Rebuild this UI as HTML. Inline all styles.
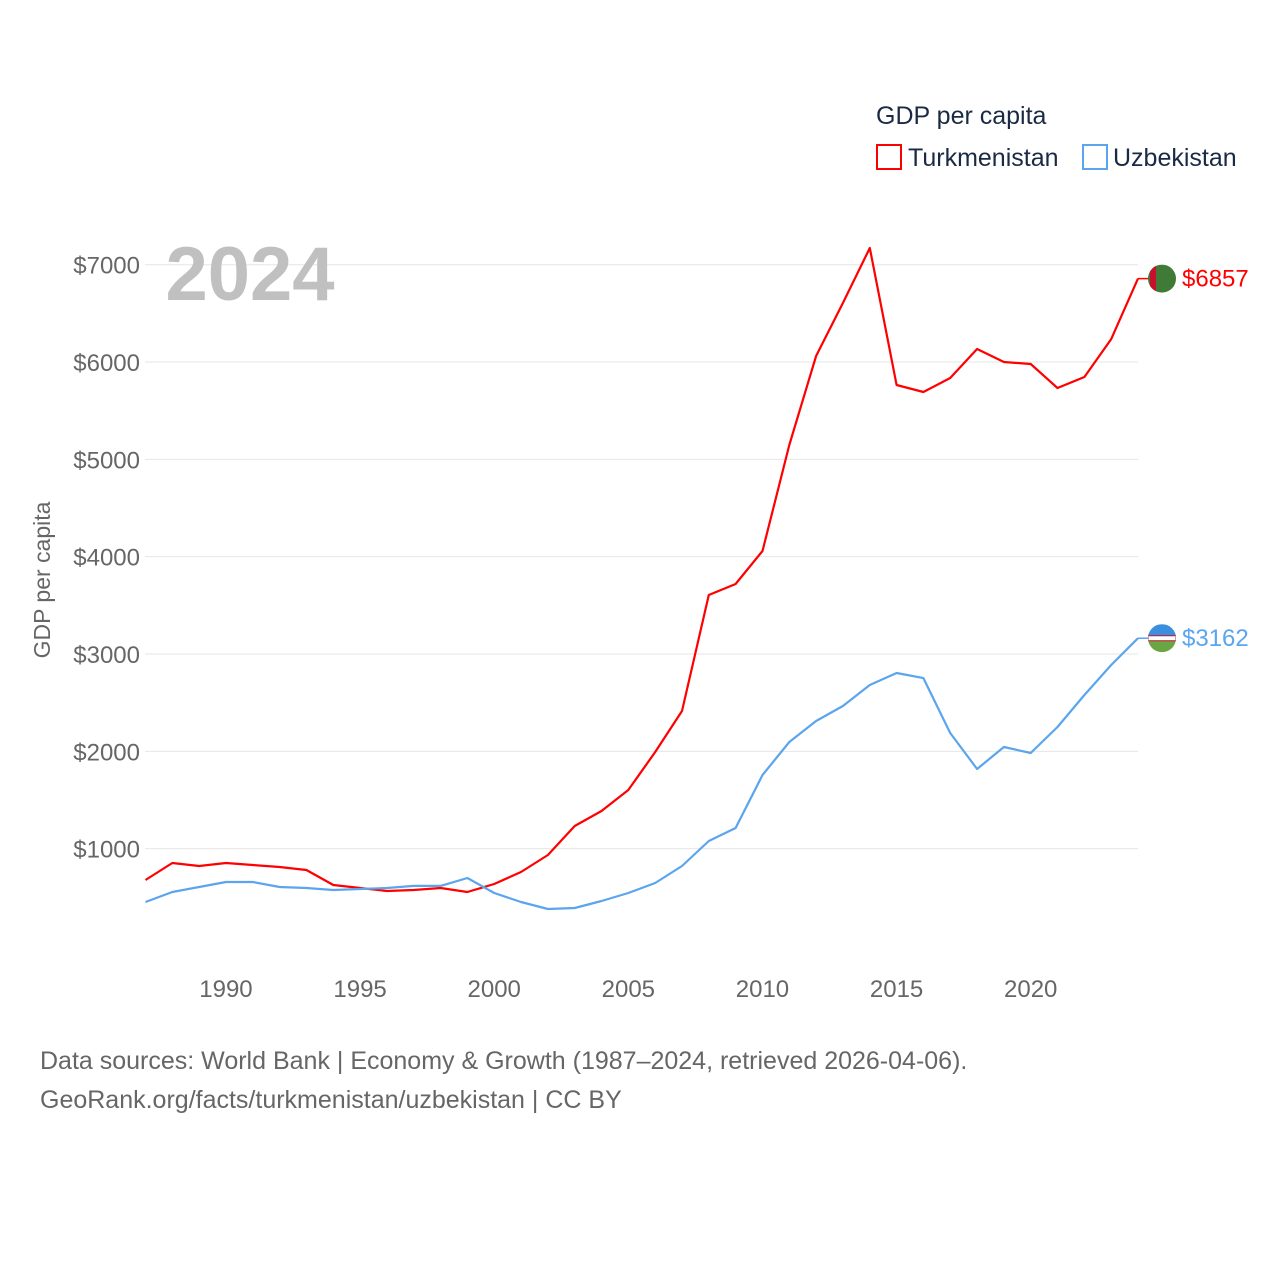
<!DOCTYPE html>
<html><head><meta charset="utf-8"><style>
body{margin:0;background:#fff;}
svg{display:block;font-family:"Liberation Sans",sans-serif;}
</style></head><body>
<svg id="chart" width="1280" height="1280" viewBox="0 0 1280 1280">
<defs><clipPath id="c1"><circle cx="1162" cy="278.6" r="14"/></clipPath><clipPath id="c2"><circle cx="1162" cy="638.3" r="14"/></clipPath></defs>
<rect width="1280" height="1280" fill="#fff"/>
<g id="grid"></g>
<g id="yticks"></g>
<g id="xticks"></g>
<text x="250" y="300" font-size="76" font-weight="bold" fill="#c0c0c0" text-anchor="middle">2024</text>
<text transform="translate(50,580) rotate(-90)" font-size="23" fill="#666" text-anchor="middle">GDP per capita</text>
<g id="series"></g>
<text x="876" y="124" font-size="25" fill="#1a2a44">GDP per capita</text>
<g>
<rect x="877" y="145" width="24" height="24" fill="none" stroke="#ff0000" stroke-width="2"/>
<text x="908" y="166" font-size="25" fill="#1a2a44">Turkmenistan</text></g>
<g>
<rect x="1083" y="145" width="24" height="24" fill="none" stroke="#5aa5ee" stroke-width="2"/>
<text x="1113" y="166" font-size="25" fill="#1a2a44">Uzbekistan</text></g>
<text x="40" y="1069" font-size="25" fill="#666">Data sources: World Bank | Economy &amp; Growth (1987–2024, retrieved 2026-04-06).</text>
<text x="40" y="1108" font-size="25" fill="#666">GeoRank.org/facts/turkmenistan/uzbekistan | CC BY</text>
</svg>
<script>
const years=[1987,1988,1989,1990,1991,1992,1993,1994,1995,1996,1997,1998,1999,2000,2001,2002,2003,2004,2005,2006,2007,2008,2009,2010,2011,2012,2013,2014,2015,2016,2017,2018,2019,2020,2021,2022,2023,2024];
const turkmenistan=[678,853,822,853,832,812,781,627,596,565,575,596,555,637,760,935,1233,1387,1603,1993,2414,3606,3719,4058,5147,6062,6606,7171,5764,5692,5836,6134,6000,5980,5733,5846,6236,6857];
const uzbekistan=[452,555,606,658,658,606,596,575,586,596,617,617,699,545,452,380,390,462,545,647,822,1079,1212,1757,2096,2312,2466,2682,2805,2753,2188,1819,2045,1983,2250,2579,2887,3162];
const yTicks=[1000,2000,3000,4000,5000,6000,7000];
const xTicks=[1990,1995,2000,2005,2010,2015,2020];
const NS="http://www.w3.org/2000/svg";
function x(v){return 145.5+(v-1987)*(1138-145.5)/37;}
function y(v){return 946-v*0.09733;}
function mk(t,a,p){const e=document.createElementNS(NS,t);for(const k in a)e.setAttribute(k,a[k]);p.appendChild(e);return e;}
const grid=document.getElementById('grid'),yt=document.getElementById('yticks'),xt=document.getElementById('xticks'),ser=document.getElementById('series');
yTicks.forEach(v=>{
const l=mk('line',{x1:145,x2:1138,y1:y(v),y2:y(v),stroke:'#e6e6e6','stroke-width':1},grid);


const t=mk('text',{x:140,y:y(v)+9,'font-size':24,fill:'#666','text-anchor':'end'},yt);
t.textContent='$'+v;


});
xTicks.forEach(v=>{
const t=mk('text',{x:x(v),y:997,'font-size':24,fill:'#666','text-anchor':'middle'},xt);
t.textContent=v;


});
function series(vals,color,name,flag){
const d=vals.map((v,i)=>(i?'L':'M')+x(years[i]).toFixed(1)+','+y(v).toFixed(1)).join(' ');
const p=mk('path',{d:d,fill:'none',stroke:color,'stroke-width':2.2,'stroke-linejoin':'round'},ser);


const last=vals[vals.length-1],ly=y(last),lx=x(years[years.length-1]);
mk('line',{x1:lx,x2:lx+12,y1:ly,y2:ly,stroke:color,'stroke-width':1.5},ser);
const g=mk('g',{},ser);


const cg=mk('g',{},g);
if(flag==='tm'){document.getElementById('c1').firstElementChild.setAttribute('cy',ly);cg.setAttribute('clip-path','url(#c1)');mk('rect',{x:1148,y:ly-14,width:28,height:28,fill:'#3f7a37'},cg);mk('rect',{x:1150,y:ly-14,width:6,height:28,fill:'#c8102e'},cg);}
else{document.getElementById('c2').firstElementChild.setAttribute('cy',ly);cg.setAttribute('clip-path','url(#c2)');mk('rect',{x:1148,y:ly-14,width:28,height:28,fill:'#6ba644'},cg);mk('rect',{x:1148,y:ly-14,width:28,height:12,fill:'#3a8fe0'},cg);mk('rect',{x:1148,y:ly-2.5,width:28,height:5,fill:'#fff',stroke:'#c8102e','stroke-width':1},cg);}
const t=mk('text',{x:1182,y:ly+8,'font-size':24,fill:color},ser);
t.textContent='$'+last;


}
series(turkmenistan,'#ff0000','turkmenistan','tm');
series(uzbekistan,'#5aa5ee','uzbekistan','uz');
</script>
</body></html>
